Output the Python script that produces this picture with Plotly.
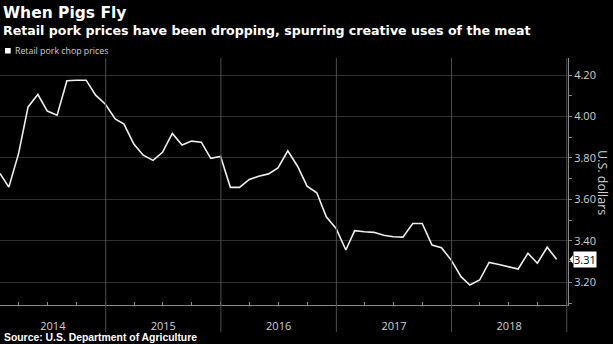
import pandas as pd
import plotly.graph_objects as go

# ---- data (monthly, Jan 2014 - Nov 2018), U.S. dollars ----
start_month = "2014-01"
prices = [
    3.725, 3.659, 3.822, 4.046, 4.106, 4.026, 4.006, 4.172, 4.175, 4.175, 4.103, 4.059,  # 2014
    3.988, 3.963, 3.867, 3.813, 3.788, 3.827, 3.918, 3.862, 3.881, 3.876, 3.798, 3.807,  # 2015
    3.658, 3.658, 3.696, 3.712, 3.723, 3.752, 3.834, 3.760, 3.664, 3.632, 3.516, 3.460,  # 2016
    3.356, 3.449, 3.444, 3.441, 3.427, 3.420, 3.418, 3.484, 3.484, 3.380, 3.367, 3.307,  # 2017
    3.227, 3.187, 3.211, 3.296, 3.286, 3.275, 3.264, 3.340, 3.292, 3.369, 3.311,         # 2018
]
years = ["2014", "2015", "2016", "2017", "2018"]
y_ticks = [3.20, 3.40, 3.60, 3.80, 4.00, 4.20]
series_name = "Retail pork chop prices"
title = "When Pigs Fly"
subtitle = "Retail pork prices have been dropping, spurring creative uses of the meat"
source = "Source: U.S. Department of Agriculture"
y_title = "U.S. dollars"

dates = pd.date_range(start_month, periods=len(prices), freq="ME")

# ---- layout geometry (pixels) ----
W, H = 613, 344
M_L, M_R, M_T, M_B = 0, 45, 58, 39
PW = W - M_L - M_R
PH = H - M_T - M_B
x_start = dates[0]
x_end = pd.Timestamp("2019-01-05")
y_range = [3.0905, 4.282]

def pxx(x):
    return (x - M_L) / PW

def pxy(y):
    return (H - M_B - y) / PH

FG = "#d0d0d0"
fig = go.Figure()
fig.add_trace(go.Scatter(
    x=dates, y=prices, mode="lines", name=series_name,
    line=dict(color="#eeeeee", width=1.6), showlegend=False,
    hoverinfo="x+y",
))

# year label positions: centre of visible part of each year
lab_pos = []
for yr in years:
    a = max(pd.Timestamp(f"{yr}-01-01"), x_start)
    b = min(pd.Timestamp(f"{int(yr)+1}-01-01"), x_end)
    lab_pos.append(a + (b - a) / 2)

shapes = []
# year separators, extending below the axis
for yr in years[1:] + [str(int(years[-1]) + 1)]:
    shapes.append(dict(type="line", xref="x", yref="paper",
                       x0=f"{yr}-01-01", x1=f"{yr}-01-01",
                       y0=pxy(332), y1=1.0,
                       line=dict(color="#4d4d4d", width=1)))
# legend square
shapes.append(dict(type="rect", xref="paper", yref="paper",
                   x0=pxx(5), x1=pxx(10.7), y0=pxy(53.5), y1=pxy(48),
                   fillcolor="white", line=dict(width=0)))
# last value tag pointer
last_val = prices[-1]
shapes.append(dict(type="path", xref="paper", yref="y",
                   path=f"M {pxx(569.5)} {last_val} L {pxx(573)} {last_val + 0.02} L {pxx(573)} {last_val - 0.02} Z",
                   fillcolor="white", line=dict(width=0)))

annotations = [
    dict(text=f"<b>{title}</b>", xref="paper", yref="paper", x=pxx(1), y=pxy(13),
         xanchor="left", yanchor="middle", showarrow=False,
         font=dict(family="DejaVu Sans", size=15.5, color="white")),
    dict(text=f"<b>{subtitle}</b>", xref="paper", yref="paper", x=pxx(1), y=pxy(31),
         xanchor="left", yanchor="middle", showarrow=False,
         font=dict(family="DejaVu Sans", size=12.6, color="white")),
    dict(text=series_name, xref="paper", yref="paper", x=pxx(12.5), y=pxy(51),
         xanchor="left", yanchor="middle", showarrow=False,
         font=dict(family="Open Sans", size=8.8, color=FG)),
    dict(text=f"<b>{source}</b>", xref="paper", yref="paper", x=pxx(2), y=pxy(337),
         xanchor="left", yanchor="middle", showarrow=False,
         font=dict(family="Liberation Sans", size=10.4, color="white")),
    dict(text=y_title, xref="paper", yref="paper", x=pxx(603), y=pxy(182),
         xanchor="center", yanchor="middle", showarrow=False, textangle=90,
         font=dict(family="Open Sans", size=12.5, color=FG)),
    dict(text=f"{last_val:.2f}", xref="paper", yref="y", x=pxx(573), y=last_val,
         xanchor="left", yanchor="middle", showarrow=False, bgcolor="white",
         borderpad=0, font=dict(family="Open Sans", size=11, color="black")),
]

fig.update_layout(
    width=W, height=H,
    margin=dict(l=M_L, r=M_R, t=M_T, b=M_B, pad=0),
    paper_bgcolor="black", plot_bgcolor="black",
    shapes=shapes, annotations=annotations,
    xaxis=dict(
        type="date", range=[x_start, x_end],
        tickmode="array", tickvals=lab_pos, ticktext=years,
        ticks="outside", ticklen=11, tickcolor="rgba(0,0,0,0)",
        tickfont=dict(family="Open Sans", size=11, color=FG),
        showgrid=False, zeroline=False,
        showline=True, linecolor="#8a8a8a", linewidth=1,
        minor=dict(ticks="inside", ticklen=3, tickcolor="#8a8a8a",
                   dtick="M3", tick0="2014-01-01", showgrid=False),
    ),
    yaxis=dict(
        side="right", range=y_range,
        tickmode="array", tickvals=y_ticks, ticktext=[f"{v:.2f}" for v in y_ticks],
        ticks="outside", ticklen=3, tickcolor="#8a8a8a",
        tickfont=dict(family="Open Sans", size=11, color=FG),
        showgrid=True, gridcolor="#303030", gridwidth=1, zeroline=False,
        showline=True, linecolor="#8a8a8a", linewidth=1,
        minor=dict(ticks="outside", ticklen=3, tickcolor="#8a8a8a",
                   tickmode="array", tickvals=[3.1, 3.3, 3.5, 3.7, 3.9, 4.1], showgrid=False),
    ),
)

fig.write_html("out.html")
